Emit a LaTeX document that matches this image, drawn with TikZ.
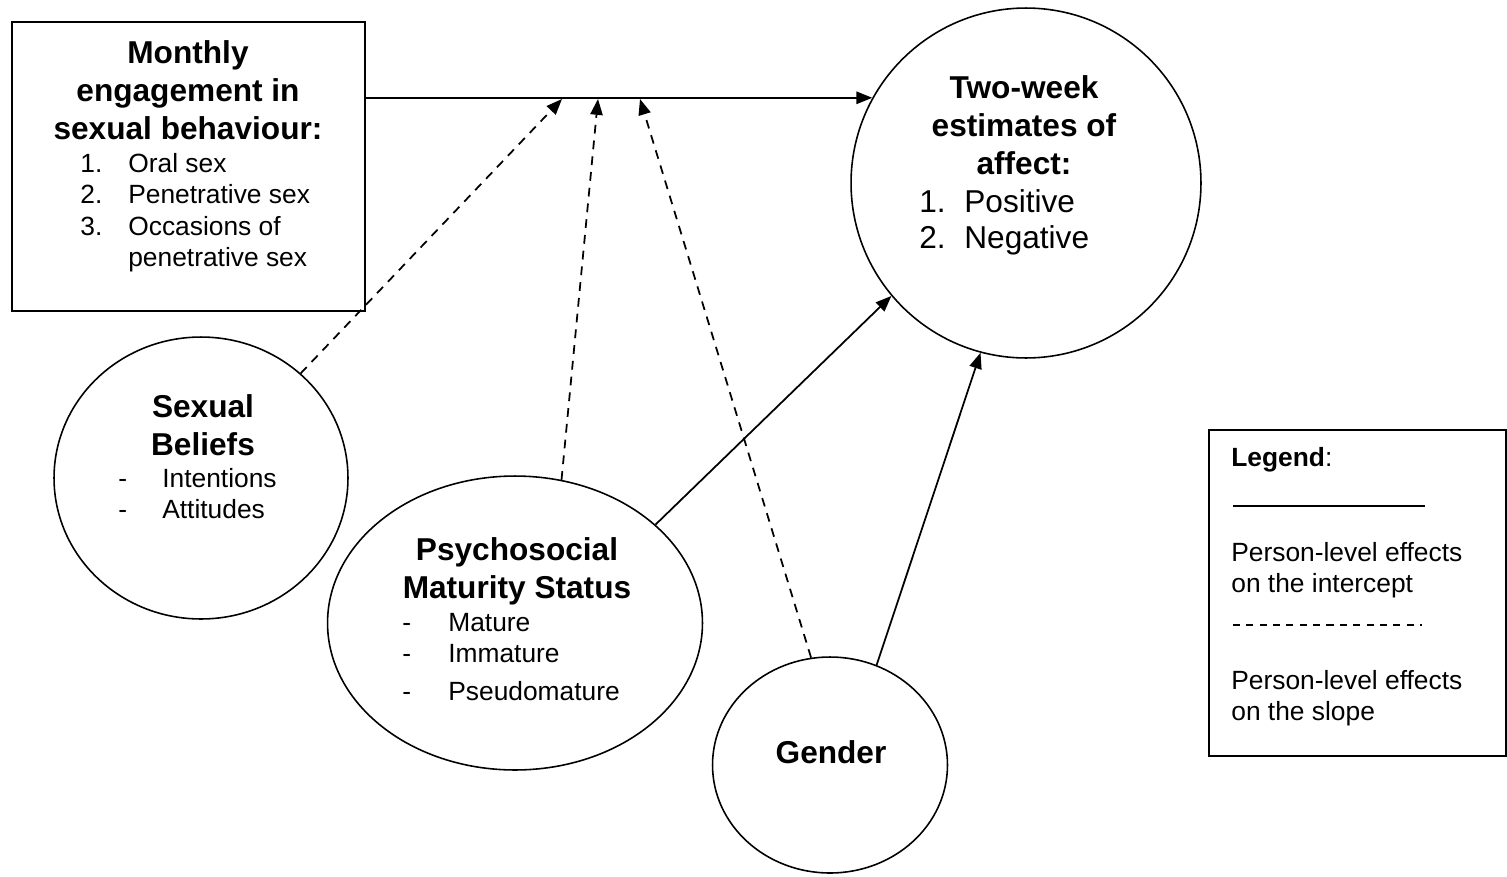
\documentclass[tikz,border=0pt]{standalone}
\usepackage{fontspec}
\setmainfont{Liberation Sans}
\usetikzlibrary{arrows.meta,shapes.geometric}
\tikzset{
  var/.style={ellipse,draw=black,line width=.9pt,inner sep=0pt},
  outbox/.style={rectangle,draw=black,line width=.9pt,inner sep=0pt},
  head/.style={font=\fontsize{18}{21.8}\selectfont\bfseries,align=center,inner sep=0pt},
  items/.style={font=\fontsize{15}{17.9}\selectfont,align=left,inner sep=0pt},
  icept/.style={line width=1pt,-{Triangle[length=9pt,width=7pt]}},
  slope/.style={line width=1pt,dash pattern=on 5pt off 4pt,-{Triangle[length=9pt,width=7pt]}}
}
\newcommand{\itm}[2]{\makebox[#1][l]{#2}}
\begin{document}
\begin{tikzpicture}[x=0.02cm,y=-0.02cm]
  \useasboundingbox (0,0) rectangle (1507,876);
  \node[outbox,minimum width=7.06cm,minimum height=5.78cm] (beh) at (188.5,166.5) {};
  \node[var,minimum width=7cm,minimum height=7cm] (aff) at (1026,183) {};
  \node[var,minimum width=5.88cm,minimum height=5.64cm] (bel) at (201,478) {};
  \node[var,minimum width=7.5cm,minimum height=5.88cm] (psy) at (515,623) {};
  \node[var,minimum width=4.7cm,minimum height=4.32cm] (gen) at (830,765) {};
  \node[outbox,minimum width=5.94cm,minimum height=6.52cm] (leg) at (1357.5,593) {};

  \node[head,anchor=north] (behT) at (188,40) {Monthly\\engagement in\\sexual behaviour:};
  \node[items,anchor=north west] (behL) at (80,153) {\itm{0.96cm}{1.}Oral sex\\\itm{0.96cm}{2.}Penetrative sex\\\itm{0.96cm}{3.}Occasions of\\\itm{0.96cm}{}penetrative sex};
  \node[head,anchor=north] (affT) at (1024,75) {Two-week\\estimates of\\affect:};
  \node[font=\fontsize{18}{20.5}\selectfont,align=left,inner sep=0pt,anchor=north west] (affL) at (919,189) {\itm{0.9cm}{1.}Positive\\\itm{0.9cm}{2.}Negative};
  \node[head,anchor=north] (belT) at (203,394) {Sexual\\Beliefs};
  \node[items,anchor=north west] (belL) at (118,468) {\itm{0.88cm}{-}Intentions\\\itm{0.88cm}{-}Attitudes};
  \node[head,anchor=north] (psyT) at (517,537) {Psychosocial\\Maturity Status};
  \node[items,anchor=north west] (psyL) at (402,613) {\itm{0.92cm}{-}Mature\\\itm{0.92cm}{-}Immature\\[3.4pt]\itm{0.92cm}{-}Pseudomature};
  \node[head,anchor=base] (genT) at (831,763) {Gender};

  \node[items,anchor=base west] (legT) at (1231,466) {\textbf{Legend}:};
  \draw[line width=1pt] (1233,506) -- (1425,506);
  \node[items,anchor=north west] (legI) at (1231,542) {Person-level effects\\on the intercept};
  \draw[line width=1pt,dash pattern=on 4pt off 3.6pt] (1233,625) -- (1422,625);
  \node[items,anchor=north west] (legS) at (1231,670) {Person-level effects\\on the slope};

  \coordinate (j1) at (562,99);
  \coordinate (j2) at (598,99);
  \coordinate (j3) at (640,99);
  \draw[icept] (beh.east |- aff.151) -- (aff.151);
  \draw[slope] (bel) -- (j1);
  \draw[slope] (psy.72) -- (j2);
  \draw[slope] (gen.100) -- (j3);
  \draw[icept] (psy.35) -- (aff.220);
  \draw[icept] (gen.65) -- (aff.255);
\end{tikzpicture}
\end{document}
